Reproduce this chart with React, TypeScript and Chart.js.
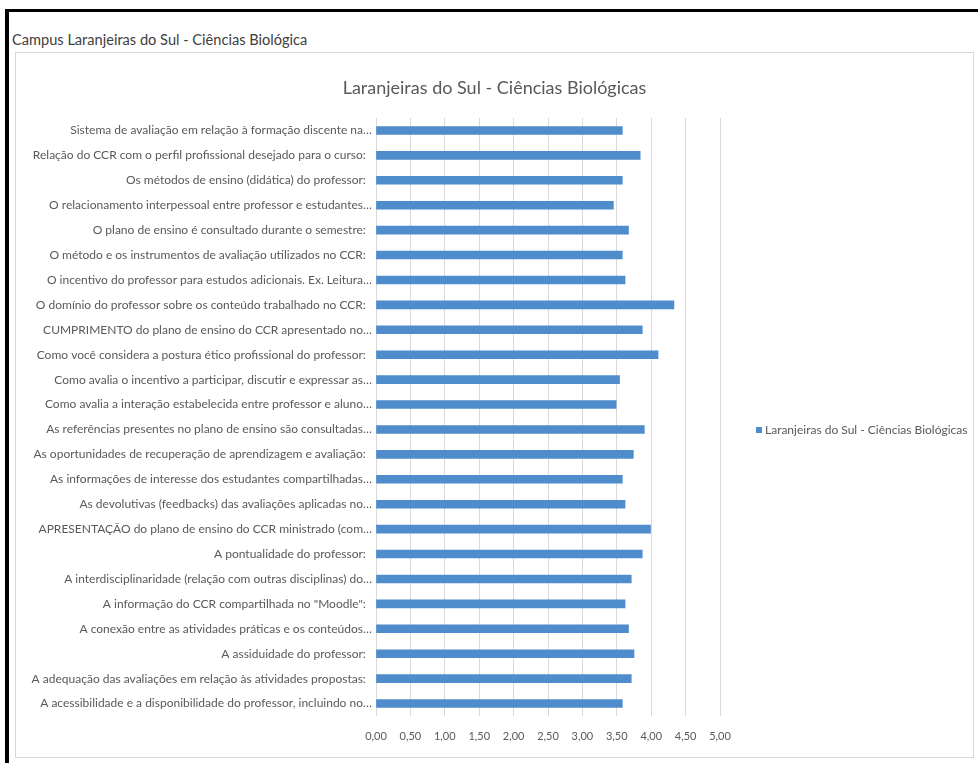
import React, { useEffect, useRef } from "react";
import { Chart, registerables } from "chart.js";

Chart.register(...registerables);

const pageTitle = "Campus Laranjeiras do Sul - Ciências Biológica";
const chartTitle = "Laranjeiras do Sul - Ciências Biológicas";
const seriesName = "Laranjeiras do Sul - Ciências Biológicas";

const categories = [
  "Sistema de avaliação em relação à formação discente na…",
  "Relação do CCR com o perfil profissional desejado para o curso:",
  "Os métodos de ensino (didática) do professor:",
  "O relacionamento interpessoal entre professor e estudantes…",
  "O plano de ensino é consultado durante o semestre:",
  "O método e os instrumentos de avaliação utilizados no CCR:",
  "O incentivo do professor para estudos adicionais. Ex. Leitura…",
  "O domínio do professor sobre os conteúdo trabalhado no CCR:",
  "CUMPRIMENTO do plano de ensino do CCR apresentado no…",
  "Como você considera a postura ético profissional do professor:",
  "Como avalia o incentivo a participar, discutir e expressar as…",
  "Como avalia a interação estabelecida entre professor e aluno…",
  "As referências presentes no plano de ensino são consultadas…",
  "As oportunidades de recuperação de aprendizagem e avaliação:",
  "As informações de interesse dos estudantes compartilhadas…",
  "As devolutivas (feedbacks) das avaliações aplicadas no…",
  "APRESENTAÇÃO do plano de ensino do CCR ministrado (com…",
  "A pontualidade do professor:",
  "A interdisciplinaridade (relação com outras disciplinas) do…",
  "A informação do CCR compartilhada no \"Moodle\":",
  "A conexão entre as atividades práticas e os conteúdos…",
  "A assiduidade do professor:",
  "A adequação das avaliações em relação às atividades propostas:",
  "A acessibilidade e a disponibilidade do professor, incluindo no…",
];

const values = [
  3.58, 3.84, 3.58, 3.45, 3.67, 3.58, 3.62, 4.33, 3.87, 4.1, 3.54, 3.49,
  3.9, 3.74, 3.58, 3.62, 3.99, 3.87, 3.71, 3.62, 3.67, 3.75, 3.71, 3.58,
];

const axisMin = 0;
const axisMax = 5;
const axisStep = 0.5;

const BAR_COLOR = "#4e8ccc";
const TEXT_COLOR = "#595959";
const FONT = "Lato, 'Open Sans', sans-serif";

export default function App() {
  const canvasRef = useRef<HTMLCanvasElement | null>(null);

  useEffect(() => {
    document.body.style.margin = "0";
    const canvas = canvasRef.current;
    if (!canvas) return;
    const chart = new Chart(canvas, {
      type: "bar",
      data: {
        labels: categories,
        datasets: [
          {
            label: seriesName,
            data: values,
            backgroundColor: BAR_COLOR,
            borderWidth: 0,
            barThickness: 8,
          },
        ],
      },
      options: {
        indexAxis: "y",
        animation: false,
        responsive: false,
        maintainAspectRatio: false,
        layout: { padding: { left: 0, right: 253, top: 65, bottom: 0 } },
        plugins: {
          legend: { display: false },
          tooltip: { enabled: false },
          title: { display: false },
        },
        scales: {
          x: {
            type: "linear",
            min: axisMin,
            max: axisMax,
            grid: { color: "#d9d9d9", drawTicks: false, lineWidth: 1 },
            border: { display: false },
            afterFit: (s: any) => {
              s.height = 41;
            },
            ticks: {
              stepSize: axisStep,
              padding: 14,
              color: TEXT_COLOR,
              font: { family: FONT, size: 11 },
              callback: (v: any) => Number(v).toFixed(2).replace(".", ","),
            },
          },
          y: {
            grid: { display: false, drawTicks: false },
            border: { display: false },
            afterFit: (s: any) => {
              s.width = 360;
            },
            ticks: {
              padding: 4,
              autoSkip: false,
              color: TEXT_COLOR,
              font: { family: FONT, size: 12 },
              callback: (_v: any, i: number) => {
                const t = categories[i];
                return t.endsWith("…") ? t : t + "  ";
              },
            },
          },
        },
      },
    });
    return () => chart.destroy();
  }, []);

  return (
    <div style={{ position: "relative", width: 978, height: 763, background: "#fff", overflow: "hidden", fontFamily: FONT }}>
      <div style={{ position: "absolute", left: 5, top: 9, right: 0, height: 3, background: "#000" }} />
      <div style={{ position: "absolute", left: 5, top: 9, width: 4, bottom: 0, background: "#000" }} />
      <div style={{ position: "absolute", left: 12, top: 31, fontSize: 14.6, color: "#404040", whiteSpace: "nowrap" }}>
        {pageTitle}
      </div>
      <div style={{ position: "absolute", left: 15, top: 52, width: 957, height: 704, border: "1px solid #d9d9d9" }}>
        <canvas ref={canvasRef} width={957} height={704} style={{ display: "block", width: 957, height: 704 }} />
      </div>
      <div style={{ position: "absolute", left: 15, width: 959, top: 76, textAlign: "center", fontSize: 18, color: TEXT_COLOR, whiteSpace: "nowrap" }}>
        {chartTitle}
      </div>
      <div style={{ position: "absolute", left: 756, top: 422, fontSize: 12, color: TEXT_COLOR, whiteSpace: "nowrap", display: "flex", alignItems: "center" }}>
        <span style={{ display: "inline-block", width: 6, height: 6, background: BAR_COLOR, marginRight: 3 }} />
        <span>{seriesName}</span>
      </div>
    </div>
  );
}
